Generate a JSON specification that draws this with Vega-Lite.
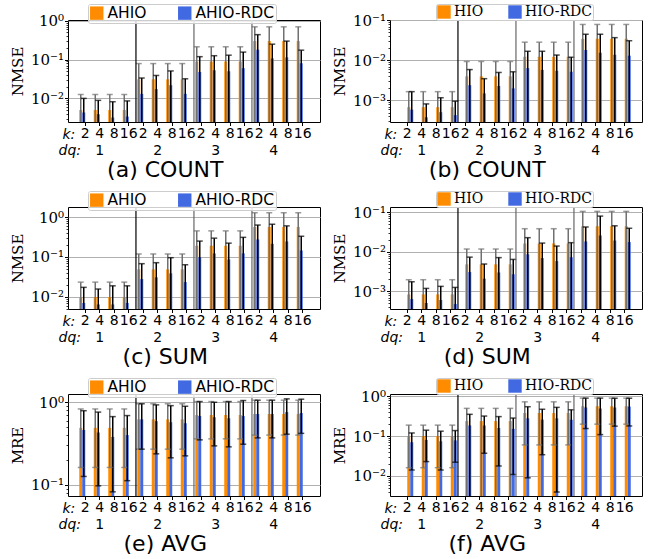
{
"$schema":"https://vega.github.io/schema/vega-lite/v6.json",
"padding":{"left":9,"top":3,"right":3,"bottom":2},
"columns":2,
"spacing":{"row":8,"column":10},
"resolve":{"scale":{"color":"independent"},"legend":{"color":"independent"}},
"config":{"view":{"stroke":"black","strokeWidth":1},"axis":{"labelColor":"black","tickColor":"black","titleColor":"black"},"legend":{"labelColor":"black"},"title":{"color":"black"}},
"datasets":{
"a":[
{"p":1,"s":"AHIO","v":0.005,"lo":0.00001,"hi":0.0126},{"p":2,"s":"AHIO","v":0.005,"lo":0.00001,"hi":0.0126},{"p":3,"s":"AHIO","v":0.005,"lo":0.00001,"hi":0.0126},{"p":4,"s":"AHIO","v":0.005,"lo":0.00001,"hi":0.0126},
{"p":5,"s":"AHIO","v":0.031,"lo":0.00001,"hi":0.079},{"p":6,"s":"AHIO","v":0.031,"lo":0.00001,"hi":0.079},{"p":7,"s":"AHIO","v":0.031,"lo":0.00001,"hi":0.079},{"p":8,"s":"AHIO","v":0.031,"lo":0.00001,"hi":0.079},
{"p":9,"s":"AHIO","v":0.089,"lo":0.00001,"hi":0.214},{"p":10,"s":"AHIO","v":0.089,"lo":0.00001,"hi":0.214},{"p":11,"s":"AHIO","v":0.089,"lo":0.00001,"hi":0.214},{"p":12,"s":"AHIO","v":0.089,"lo":0.00001,"hi":0.214},
{"p":13,"s":"AHIO","v":0.30,"lo":0.00001,"hi":0.70},{"p":14,"s":"AHIO","v":0.30,"lo":0.00001,"hi":0.70},{"p":15,"s":"AHIO","v":0.30,"lo":0.00001,"hi":0.70},{"p":16,"s":"AHIO","v":0.30,"lo":0.00001,"hi":0.70},
{"p":1,"s":"AHIO-RDC","v":0.0043,"lo":0.00001,"hi":0.0100},{"p":2,"s":"AHIO-RDC","v":0.0039,"lo":0.00001,"hi":0.0089},{"p":3,"s":"AHIO-RDC","v":0.0032,"lo":0.00001,"hi":0.0082},{"p":4,"s":"AHIO-RDC","v":0.0034,"lo":0.00001,"hi":0.0086},
{"p":5,"s":"AHIO-RDC","v":0.0131,"lo":0.00001,"hi":0.0335},{"p":6,"s":"AHIO-RDC","v":0.0173,"lo":0.00001,"hi":0.039},{"p":7,"s":"AHIO-RDC","v":0.0219,"lo":0.00001,"hi":0.051},{"p":8,"s":"AHIO-RDC","v":0.0131,"lo":0.00001,"hi":0.032},
{"p":9,"s":"AHIO-RDC","v":0.048,"lo":0.00001,"hi":0.119},{"p":10,"s":"AHIO-RDC","v":0.053,"lo":0.00001,"hi":0.126},{"p":11,"s":"AHIO-RDC","v":0.050,"lo":0.00001,"hi":0.13},{"p":12,"s":"AHIO-RDC","v":0.060,"lo":0.00001,"hi":0.156},
{"p":13,"s":"AHIO-RDC","v":0.18,"lo":0.00001,"hi":0.44},{"p":14,"s":"AHIO-RDC","v":0.107,"lo":0.00001,"hi":0.25},{"p":15,"s":"AHIO-RDC","v":0.114,"lo":0.00001,"hi":0.30},{"p":16,"s":"AHIO-RDC","v":0.080,"lo":0.00001,"hi":0.175}
],
"b":[
{"p":1,"s":"HIO","v":0.00068,"lo":0.000001,"hi":0.00166},{"p":2,"s":"HIO","v":0.00068,"lo":0.000001,"hi":0.00166},{"p":3,"s":"HIO","v":0.00068,"lo":0.000001,"hi":0.00166},{"p":4,"s":"HIO","v":0.00068,"lo":0.000001,"hi":0.00166},
{"p":5,"s":"HIO","v":0.0040,"lo":0.000001,"hi":0.0094},{"p":6,"s":"HIO","v":0.0040,"lo":0.000001,"hi":0.0094},{"p":7,"s":"HIO","v":0.0040,"lo":0.000001,"hi":0.0094},{"p":8,"s":"HIO","v":0.0040,"lo":0.000001,"hi":0.0094},
{"p":9,"s":"HIO","v":0.0123,"lo":0.000001,"hi":0.0285},{"p":10,"s":"HIO","v":0.0123,"lo":0.000001,"hi":0.0285},{"p":11,"s":"HIO","v":0.0123,"lo":0.000001,"hi":0.0285},{"p":12,"s":"HIO","v":0.0123,"lo":0.000001,"hi":0.0285},
{"p":13,"s":"HIO","v":0.0345,"lo":0.000001,"hi":0.079},{"p":14,"s":"HIO","v":0.0345,"lo":0.000001,"hi":0.079},{"p":15,"s":"HIO","v":0.0345,"lo":0.000001,"hi":0.079},{"p":16,"s":"HIO","v":0.0345,"lo":0.000001,"hi":0.079},
{"p":1,"s":"HIO-RDC","v":0.00059,"lo":0.000001,"hi":0.00166},{"p":2,"s":"HIO-RDC","v":0.00038,"lo":0.000001,"hi":0.00082},{"p":3,"s":"HIO-RDC","v":0.00051,"lo":0.000001,"hi":0.00117},{"p":4,"s":"HIO-RDC","v":0.00043,"lo":0.000001,"hi":0.00096},
{"p":5,"s":"HIO-RDC","v":0.0024,"lo":0.000001,"hi":0.0059},{"p":6,"s":"HIO-RDC","v":0.0015,"lo":0.000001,"hi":0.0035},{"p":7,"s":"HIO-RDC","v":0.0023,"lo":0.000001,"hi":0.0050},{"p":8,"s":"HIO-RDC","v":0.0020,"lo":0.000001,"hi":0.0052},
{"p":9,"s":"HIO-RDC","v":0.0064,"lo":0.000001,"hi":0.0169},{"p":10,"s":"HIO-RDC","v":0.0058,"lo":0.000001,"hi":0.0169},{"p":11,"s":"HIO-RDC","v":0.0055,"lo":0.000001,"hi":0.0136},{"p":12,"s":"HIO-RDC","v":0.0052,"lo":0.000001,"hi":0.012},
{"p":13,"s":"HIO-RDC","v":0.0182,"lo":0.000001,"hi":0.045},{"p":14,"s":"HIO-RDC","v":0.0156,"lo":0.000001,"hi":0.045},{"p":15,"s":"HIO-RDC","v":0.0139,"lo":0.000001,"hi":0.037},{"p":16,"s":"HIO-RDC","v":0.0131,"lo":0.000001,"hi":0.031}
],
"c":[
{"p":1,"s":"AHIO","v":0.010,"lo":0.00001,"hi":0.0235},{"p":2,"s":"AHIO","v":0.010,"lo":0.00001,"hi":0.0235},{"p":3,"s":"AHIO","v":0.010,"lo":0.00001,"hi":0.0235},{"p":4,"s":"AHIO","v":0.010,"lo":0.00001,"hi":0.0235},
{"p":5,"s":"AHIO","v":0.049,"lo":0.00001,"hi":0.119},{"p":6,"s":"AHIO","v":0.049,"lo":0.00001,"hi":0.119},{"p":7,"s":"AHIO","v":0.049,"lo":0.00001,"hi":0.119},{"p":8,"s":"AHIO","v":0.049,"lo":0.00001,"hi":0.119},
{"p":9,"s":"AHIO","v":0.191,"lo":0.00001,"hi":0.45},{"p":10,"s":"AHIO","v":0.191,"lo":0.00001,"hi":0.45},{"p":11,"s":"AHIO","v":0.191,"lo":0.00001,"hi":0.45},{"p":12,"s":"AHIO","v":0.191,"lo":0.00001,"hi":0.45},
{"p":13,"s":"AHIO","v":0.565,"lo":0.00001,"hi":1.28},{"p":14,"s":"AHIO","v":0.565,"lo":0.00001,"hi":1.28},{"p":15,"s":"AHIO","v":0.565,"lo":0.00001,"hi":1.28},{"p":16,"s":"AHIO","v":0.565,"lo":0.00001,"hi":1.28},
{"p":1,"s":"AHIO-RDC","v":0.0071,"lo":0.00001,"hi":0.0174},{"p":2,"s":"AHIO-RDC","v":0.0065,"lo":0.00001,"hi":0.0158},{"p":3,"s":"AHIO-RDC","v":0.0065,"lo":0.00001,"hi":0.019},{"p":4,"s":"AHIO-RDC","v":0.0071,"lo":0.00001,"hi":0.019},
{"p":5,"s":"AHIO-RDC","v":0.028,"lo":0.00001,"hi":0.068},{"p":6,"s":"AHIO-RDC","v":0.031,"lo":0.00001,"hi":0.072},{"p":7,"s":"AHIO-RDC","v":0.039,"lo":0.00001,"hi":0.096},{"p":8,"s":"AHIO-RDC","v":0.0235,"lo":0.00001,"hi":0.064},
{"p":9,"s":"AHIO-RDC","v":0.098,"lo":0.00001,"hi":0.25},{"p":10,"s":"AHIO-RDC","v":0.123,"lo":0.00001,"hi":0.296},{"p":11,"s":"AHIO-RDC","v":0.087,"lo":0.00001,"hi":0.222},{"p":12,"s":"AHIO-RDC","v":0.123,"lo":0.00001,"hi":0.31},
{"p":13,"s":"AHIO-RDC","v":0.274,"lo":0.00001,"hi":0.63},{"p":14,"s":"AHIO-RDC","v":0.214,"lo":0.00001,"hi":0.66},{"p":15,"s":"AHIO-RDC","v":0.245,"lo":0.00001,"hi":0.60},{"p":16,"s":"AHIO-RDC","v":0.146,"lo":0.00001,"hi":0.33}
],
"d":[
{"p":1,"s":"HIO","v":0.00084,"lo":0.000001,"hi":0.00197},{"p":2,"s":"HIO","v":0.00084,"lo":0.000001,"hi":0.00197},{"p":3,"s":"HIO","v":0.00084,"lo":0.000001,"hi":0.00197},{"p":4,"s":"HIO","v":0.00084,"lo":0.000001,"hi":0.00197},
{"p":5,"s":"HIO","v":0.0048,"lo":0.000001,"hi":0.0117},{"p":6,"s":"HIO","v":0.0048,"lo":0.000001,"hi":0.0117},{"p":7,"s":"HIO","v":0.0048,"lo":0.000001,"hi":0.0117},{"p":8,"s":"HIO","v":0.0048,"lo":0.000001,"hi":0.0117},
{"p":9,"s":"HIO","v":0.0162,"lo":0.000001,"hi":0.038},{"p":10,"s":"HIO","v":0.0162,"lo":0.000001,"hi":0.038},{"p":11,"s":"HIO","v":0.0162,"lo":0.000001,"hi":0.038},{"p":12,"s":"HIO","v":0.0162,"lo":0.000001,"hi":0.038},
{"p":13,"s":"HIO","v":0.0436,"lo":0.000001,"hi":0.104},{"p":14,"s":"HIO","v":0.0436,"lo":0.000001,"hi":0.104},{"p":15,"s":"HIO","v":0.0436,"lo":0.000001,"hi":0.104},{"p":16,"s":"HIO","v":0.0436,"lo":0.000001,"hi":0.104},
{"p":1,"s":"HIO-RDC","v":0.00064,"lo":0.000001,"hi":0.00175},{"p":2,"s":"HIO-RDC","v":0.00051,"lo":0.000001,"hi":0.00119},{"p":3,"s":"HIO-RDC","v":0.000605,"lo":0.000001,"hi":0.00134},{"p":4,"s":"HIO-RDC","v":0.00048,"lo":0.000001,"hi":0.00126},
{"p":5,"s":"HIO-RDC","v":0.00307,"lo":0.000001,"hi":0.0073},{"p":6,"s":"HIO-RDC","v":0.00209,"lo":0.000001,"hi":0.0049},{"p":7,"s":"HIO-RDC","v":0.0030,"lo":0.000001,"hi":0.0071},{"p":8,"s":"HIO-RDC","v":0.0027,"lo":0.000001,"hi":0.0064},
{"p":9,"s":"HIO-RDC","v":0.0086,"lo":0.000001,"hi":0.0226},{"p":10,"s":"HIO-RDC","v":0.0069,"lo":0.000001,"hi":0.0165},{"p":11,"s":"HIO-RDC","v":0.0058,"lo":0.000001,"hi":0.0139},{"p":12,"s":"HIO-RDC","v":0.0073,"lo":0.000001,"hi":0.0169},
{"p":13,"s":"HIO-RDC","v":0.0182,"lo":0.000001,"hi":0.042},{"p":14,"s":"HIO-RDC","v":0.0258,"lo":0.000001,"hi":0.079},{"p":15,"s":"HIO-RDC","v":0.0193,"lo":0.000001,"hi":0.045},{"p":16,"s":"HIO-RDC","v":0.0175,"lo":0.000001,"hi":0.039}
],
"e":[
{"p":1,"s":"AHIO","v":0.49,"lo":0.162,"hi":0.83},{"p":2,"s":"AHIO","v":0.49,"lo":0.162,"hi":0.83},{"p":3,"s":"AHIO","v":0.49,"lo":0.162,"hi":0.83},{"p":4,"s":"AHIO","v":0.49,"lo":0.162,"hi":0.83},
{"p":5,"s":"AHIO","v":0.62,"lo":0.27,"hi":0.96},{"p":6,"s":"AHIO","v":0.62,"lo":0.27,"hi":0.96},{"p":7,"s":"AHIO","v":0.62,"lo":0.27,"hi":0.96},{"p":8,"s":"AHIO","v":0.62,"lo":0.27,"hi":0.96},
{"p":9,"s":"AHIO","v":0.70,"lo":0.36,"hi":1.02},{"p":10,"s":"AHIO","v":0.70,"lo":0.36,"hi":1.02},{"p":11,"s":"AHIO","v":0.70,"lo":0.36,"hi":1.02},{"p":12,"s":"AHIO","v":0.70,"lo":0.36,"hi":1.02},
{"p":13,"s":"AHIO","v":0.72,"lo":0.40,"hi":1.06},{"p":14,"s":"AHIO","v":0.72,"lo":0.40,"hi":1.06},{"p":15,"s":"AHIO","v":0.72,"lo":0.40,"hi":1.06},{"p":16,"s":"AHIO","v":0.72,"lo":0.40,"hi":1.06},
{"p":1,"s":"AHIO-RDC","v":0.46,"lo":0.126,"hi":0.79},{"p":2,"s":"AHIO-RDC","v":0.43,"lo":0.097,"hi":0.76},{"p":3,"s":"AHIO-RDC","v":0.38,"lo":0.082,"hi":0.67},{"p":4,"s":"AHIO-RDC","v":0.40,"lo":0.112,"hi":0.69},
{"p":5,"s":"AHIO-RDC","v":0.62,"lo":0.27,"hi":0.96},{"p":6,"s":"AHIO-RDC","v":0.59,"lo":0.237,"hi":0.93},{"p":7,"s":"AHIO-RDC","v":0.573,"lo":0.212,"hi":0.91},{"p":8,"s":"AHIO-RDC","v":0.557,"lo":0.224,"hi":0.895},
{"p":9,"s":"AHIO-RDC","v":0.68,"lo":0.35,"hi":1.02},{"p":10,"s":"AHIO-RDC","v":0.66,"lo":0.296,"hi":1.0},{"p":11,"s":"AHIO-RDC","v":0.64,"lo":0.288,"hi":1.02},{"p":12,"s":"AHIO-RDC","v":0.68,"lo":0.31,"hi":1.05},
{"p":13,"s":"AHIO-RDC","v":0.72,"lo":0.37,"hi":1.06},{"p":14,"s":"AHIO-RDC","v":0.72,"lo":0.37,"hi":1.06},{"p":15,"s":"AHIO-RDC","v":0.76,"lo":0.41,"hi":1.10},{"p":16,"s":"AHIO-RDC","v":0.74,"lo":0.42,"hi":1.09}
],
"f":[
{"p":1,"s":"HIO","v":0.100,"lo":0.016,"hi":0.189},{"p":2,"s":"HIO","v":0.100,"lo":0.016,"hi":0.189},{"p":3,"s":"HIO","v":0.100,"lo":0.016,"hi":0.189},{"p":4,"s":"HIO","v":0.100,"lo":0.016,"hi":0.189},
{"p":5,"s":"HIO","v":0.239,"lo":0.00001,"hi":0.50},{"p":6,"s":"HIO","v":0.239,"lo":0.00001,"hi":0.50},{"p":7,"s":"HIO","v":0.239,"lo":0.00001,"hi":0.50},{"p":8,"s":"HIO","v":0.239,"lo":0.00001,"hi":0.50},
{"p":9,"s":"HIO","v":0.38,"lo":0.06,"hi":0.73},{"p":10,"s":"HIO","v":0.38,"lo":0.06,"hi":0.73},{"p":11,"s":"HIO","v":0.38,"lo":0.06,"hi":0.73},{"p":12,"s":"HIO","v":0.38,"lo":0.06,"hi":0.73},
{"p":13,"s":"HIO","v":0.567,"lo":0.2,"hi":0.906},{"p":14,"s":"HIO","v":0.567,"lo":0.2,"hi":0.906},{"p":15,"s":"HIO","v":0.567,"lo":0.2,"hi":0.906},{"p":16,"s":"HIO","v":0.567,"lo":0.2,"hi":0.906},
{"p":1,"s":"HIO-RDC","v":0.070,"lo":0.014,"hi":0.12},{"p":2,"s":"HIO-RDC","v":0.080,"lo":0.0228,"hi":0.141},{"p":3,"s":"HIO-RDC","v":0.074,"lo":0.014,"hi":0.133},{"p":4,"s":"HIO-RDC","v":0.078,"lo":0.022,"hi":0.138},
{"p":5,"s":"HIO-RDC","v":0.185,"lo":0.00001,"hi":0.354},{"p":6,"s":"HIO-RDC","v":0.185,"lo":0.037,"hi":0.32},{"p":7,"s":"HIO-RDC","v":0.16,"lo":0.0177,"hi":0.31},{"p":8,"s":"HIO-RDC","v":0.152,"lo":0.0108,"hi":0.285},
{"p":9,"s":"HIO-RDC","v":0.28,"lo":0.0089,"hi":0.55},{"p":10,"s":"HIO-RDC","v":0.26,"lo":0.034,"hi":0.475},{"p":11,"s":"HIO-RDC","v":0.28,"lo":0.0039,"hi":0.53},{"p":12,"s":"HIO-RDC","v":0.26,"lo":0.00001,"hi":0.46},
{"p":13,"s":"HIO-RDC","v":0.524,"lo":0.155,"hi":0.906},{"p":14,"s":"HIO-RDC","v":0.494,"lo":0.109,"hi":0.906},{"p":15,"s":"HIO-RDC","v":0.524,"lo":0.178,"hi":0.9},{"p":16,"s":"HIO-RDC","v":0.555,"lo":0.18,"hi":0.9}
]
},
"concat":[
{"width":252,"height":102,"data":{"name":"a"},
"title":{"text":"(a) COUNT","orient":"bottom","anchor":"middle","frame":"bounds","font":"DejaVu Sans","fontSize":22,"fontWeight":"normal","offset":3},
"layer":[
{"mark":{"type":"bar","clip":true},"encoding":{
"x":{"field":"p","type":"ordinal","scale":{"type":"band","paddingInner":0.172,"paddingOuter":0.776},"axis":{"orient":"bottom","title":"k:","titleFont":"DejaVu Sans","titleFontStyle":"italic","titleFontWeight":"normal","titleFontSize":14,"titleX":-6,"titleY":12,"titleAlign":"left","titleBaseline":"middle","titleAngle":0,"labelExpr":"['2','4','8','16'][(datum.value-1)%4]","labelAngle":0,"labelFont":"DejaVu Sans","labelFontSize":14,"labelOverlap":false,"labelPadding":1,"tickSize":3.5,"grid":false,"domain":false}},
"xOffset":{"field":"s","type":"nominal","scale":{"paddingInner":0,"paddingOuter":0}},
"y":{"field":"v","type":"quantitative","stack":null,"scale":{"type":"log","domain":[0.00246,1.05],"nice":false},"axis":{"orient":"left","values":[0.01,0.1,1],"labelExpr":"'10' + (datum.value < 1 ? '⁻' : '') + ['⁰','¹','²','³','⁴'][abs(round(log(datum.value)/LN10))]","labelFont":"DejaVu Serif","labelFontSize":15,"labelPadding":1,"tickSize":3.5,"grid":true,"gridColor":"#b0b0b0","gridWidth":1,"domain":false,"title":"NMSE","titleFont":"DejaVu Serif","titleFontSize":15,"titleFontWeight":"normal","titlePadding":5}},
"color":{"field":"s","type":"nominal","scale":{"domain":["AHIO","AHIO-RDC"],"range":["#ff8c00","#4169e1"]},"legend":{"orient":"none","legendX":20,"legendY":-16,"direction":"horizontal","title":null,"symbolType":"square","symbolSize":180,"symbolStrokeWidth":0,"labelFont":"DejaVu Sans","labelFontSize":15.5,"labelOffset":3,"columnPadding":30,"padding":1,"strokeColor":"#cccccc","fillColor":"rgba(255,255,255,0.8)","cornerRadius":2}}}},
{"mark":{"type":"rule","clip":true,"strokeWidth":1.5},"encoding":{
"x":{"field":"p","type":"ordinal","axis":{"orient":"bottom","values":[2,6,10,14],"bandPosition":1,"labelExpr":"(datum.value+2)/4","labelAngle":0,"labelFont":"DejaVu Sans","labelFontSize":14,"labelOverlap":false,"ticks":false,"tickSize":0,"labelPadding":21,"grid":false,"domain":false,"title":"dq:","titleFont":"DejaVu Sans","titleFontStyle":"italic","titleFontWeight":"normal","titleFontSize":14,"titleX":-10,"titleY":28,"titleAlign":"left","titleBaseline":"middle","titleAngle":0}},
"xOffset":{"field":"s","type":"nominal"},
"y":{"field":"lo","type":"quantitative","axis":{"orient":"left","values":[0.0002,0.0003,0.0004,0.0005,0.0006,0.0007,0.0008,0.0009,0.002,0.003,0.004,0.005,0.006,0.007,0.008,0.009,0.02,0.03,0.04,0.05,0.06,0.07,0.08,0.09,0.2,0.3,0.4,0.5,0.6,0.7,0.8,0.9],"tickCount":100,"labels":false,"tickSize":2,"tickWidth":0.8,"grid":false,"domain":false,"title":null}},
"y2":{"field":"hi"},
"color":{"condition":{"test":"indexof(datum.s,'RDC')<0","value":"#707070"},"value":"black"}}},
{"mark":{"type":"tick","clip":true,"thickness":1.5,"size":6},"encoding":{"x":{"field":"p","type":"ordinal","axis":null},"xOffset":{"field":"s","type":"nominal"},"y":{"field":"hi","type":"quantitative","axis":null},"color":{"condition":{"test":"indexof(datum.s,'RDC')<0","value":"#707070"},"value":"black"}}},
{"mark":{"type":"tick","clip":true,"thickness":1.5,"size":6},"encoding":{"x":{"field":"p","type":"ordinal","axis":null},"xOffset":{"field":"s","type":"nominal"},"y":{"field":"lo","type":"quantitative","axis":null},"color":{"condition":{"test":"indexof(datum.s,'RDC')<0","value":"#707070"},"value":"black"}}},
{"data":{"values":[{"p":4},{"p":8},{"p":12}]},"mark":{"type":"rule","strokeWidth":1.2},"encoding":{"x":{"field":"p","type":"ordinal","bandPosition":1.1,"axis":null},"color":{"condition":{"test":"datum.p==4","value":"black"},"value":"#666666"}}}
],
"resolve":{"axis":{"x":"independent","y":"independent"}}},

{"width":252,"height":102,"data":{"name":"b"},
"title":{"text":"(b) COUNT","orient":"bottom","anchor":"middle","frame":"bounds","font":"DejaVu Sans","fontSize":22,"fontWeight":"normal","offset":3},
"layer":[
{"mark":{"type":"bar","clip":true},"encoding":{
"x":{"field":"p","type":"ordinal","scale":{"type":"band","paddingInner":0.172,"paddingOuter":0.776},"axis":{"orient":"bottom","title":"k:","titleFont":"DejaVu Sans","titleFontStyle":"italic","titleFontWeight":"normal","titleFontSize":14,"titleX":-6,"titleY":12,"titleAlign":"left","titleBaseline":"middle","titleAngle":0,"labelExpr":"['2','4','8','16'][(datum.value-1)%4]","labelAngle":0,"labelFont":"DejaVu Sans","labelFontSize":14,"labelOverlap":false,"labelPadding":1,"tickSize":3.5,"grid":false,"domain":false}},
"xOffset":{"field":"s","type":"nominal","scale":{"paddingInner":0,"paddingOuter":0}},
"y":{"field":"v","type":"quantitative","stack":null,"scale":{"type":"log","domain":[0.00029,0.102],"nice":false},"axis":{"orient":"left","values":[0.001,0.01,0.1],"labelExpr":"'10' + (datum.value < 1 ? '⁻' : '') + ['⁰','¹','²','³','⁴'][abs(round(log(datum.value)/LN10))]","labelFont":"DejaVu Serif","labelFontSize":15,"labelPadding":1,"tickSize":3.5,"grid":true,"gridColor":"#b0b0b0","gridWidth":1,"domain":false,"title":"NMSE","titleFont":"DejaVu Serif","titleFontSize":15,"titleFontWeight":"normal","titlePadding":5}},
"color":{"field":"s","type":"nominal","scale":{"domain":["HIO","HIO-RDC"],"range":["#ff8c00","#4169e1"]},"legend":{"orient":"none","legendX":46,"legendY":-16,"direction":"horizontal","title":null,"symbolType":"square","symbolSize":180,"symbolStrokeWidth":0,"labelFont":"DejaVu Serif","labelFontSize":14,"labelOffset":3,"columnPadding":24,"padding":1,"strokeColor":"#cccccc","fillColor":"rgba(255,255,255,0.8)","cornerRadius":2}}}},
{"mark":{"type":"rule","clip":true,"strokeWidth":1.5},"encoding":{
"x":{"field":"p","type":"ordinal","axis":{"orient":"bottom","values":[2,6,10,14],"bandPosition":1,"labelExpr":"(datum.value+2)/4","labelAngle":0,"labelFont":"DejaVu Sans","labelFontSize":14,"labelOverlap":false,"ticks":false,"tickSize":0,"labelPadding":21,"grid":false,"domain":false,"title":"dq:","titleFont":"DejaVu Sans","titleFontStyle":"italic","titleFontWeight":"normal","titleFontSize":14,"titleX":-10,"titleY":28,"titleAlign":"left","titleBaseline":"middle","titleAngle":0}},
"xOffset":{"field":"s","type":"nominal"},
"y":{"field":"lo","type":"quantitative","axis":{"orient":"left","values":[0.0002,0.0003,0.0004,0.0005,0.0006,0.0007,0.0008,0.0009,0.002,0.003,0.004,0.005,0.006,0.007,0.008,0.009,0.02,0.03,0.04,0.05,0.06,0.07,0.08,0.09,0.2,0.3,0.4,0.5,0.6,0.7,0.8,0.9],"tickCount":100,"labels":false,"tickSize":2,"tickWidth":0.8,"grid":false,"domain":false,"title":null}},
"y2":{"field":"hi"},
"color":{"condition":{"test":"indexof(datum.s,'RDC')<0","value":"#707070"},"value":"black"}}},
{"mark":{"type":"tick","clip":true,"thickness":1.5,"size":6},"encoding":{"x":{"field":"p","type":"ordinal","axis":null},"xOffset":{"field":"s","type":"nominal"},"y":{"field":"hi","type":"quantitative","axis":null},"color":{"condition":{"test":"indexof(datum.s,'RDC')<0","value":"#707070"},"value":"black"}}},
{"mark":{"type":"tick","clip":true,"thickness":1.5,"size":6},"encoding":{"x":{"field":"p","type":"ordinal","axis":null},"xOffset":{"field":"s","type":"nominal"},"y":{"field":"lo","type":"quantitative","axis":null},"color":{"condition":{"test":"indexof(datum.s,'RDC')<0","value":"#707070"},"value":"black"}}},
{"data":{"values":[{"p":4},{"p":8},{"p":12}]},"mark":{"type":"rule","strokeWidth":1.2},"encoding":{"x":{"field":"p","type":"ordinal","bandPosition":1.1,"axis":null},"color":{"condition":{"test":"datum.p==4","value":"black"},"value":"#666666"}}}
],
"resolve":{"axis":{"x":"independent","y":"independent"}}},

{"width":252,"height":102,"data":{"name":"c"},
"title":{"text":"(c) SUM","orient":"bottom","anchor":"middle","frame":"bounds","font":"DejaVu Sans","fontSize":22,"fontWeight":"normal","offset":3},
"layer":[
{"mark":{"type":"bar","clip":true},"encoding":{
"x":{"field":"p","type":"ordinal","scale":{"type":"band","paddingInner":0.172,"paddingOuter":0.776},"axis":{"orient":"bottom","title":"k:","titleFont":"DejaVu Sans","titleFontStyle":"italic","titleFontWeight":"normal","titleFontSize":14,"titleX":-6,"titleY":12,"titleAlign":"left","titleBaseline":"middle","titleAngle":0,"labelExpr":"['2','4','8','16'][(datum.value-1)%4]","labelAngle":0,"labelFont":"DejaVu Sans","labelFontSize":14,"labelOverlap":false,"labelPadding":1,"tickSize":3.5,"grid":false,"domain":false}},
"xOffset":{"field":"s","type":"nominal","scale":{"paddingInner":0,"paddingOuter":0}},
"y":{"field":"v","type":"quantitative","stack":null,"scale":{"type":"log","domain":[0.005,1.78],"nice":false},"axis":{"orient":"left","values":[0.01,0.1,1],"labelExpr":"'10' + (datum.value < 1 ? '⁻' : '') + ['⁰','¹','²','³','⁴'][abs(round(log(datum.value)/LN10))]","labelFont":"DejaVu Serif","labelFontSize":15,"labelPadding":1,"tickSize":3.5,"grid":true,"gridColor":"#b0b0b0","gridWidth":1,"domain":false,"title":"NMSE","titleFont":"DejaVu Serif","titleFontSize":15,"titleFontWeight":"normal","titlePadding":5}},
"color":{"field":"s","type":"nominal","scale":{"domain":["AHIO","AHIO-RDC"],"range":["#ff8c00","#4169e1"]},"legend":{"orient":"none","legendX":20,"legendY":-16,"direction":"horizontal","title":null,"symbolType":"square","symbolSize":180,"symbolStrokeWidth":0,"labelFont":"DejaVu Sans","labelFontSize":15.5,"labelOffset":3,"columnPadding":30,"padding":1,"strokeColor":"#cccccc","fillColor":"rgba(255,255,255,0.8)","cornerRadius":2}}}},
{"mark":{"type":"rule","clip":true,"strokeWidth":1.5},"encoding":{
"x":{"field":"p","type":"ordinal","axis":{"orient":"bottom","values":[2,6,10,14],"bandPosition":1,"labelExpr":"(datum.value+2)/4","labelAngle":0,"labelFont":"DejaVu Sans","labelFontSize":14,"labelOverlap":false,"ticks":false,"tickSize":0,"labelPadding":21,"grid":false,"domain":false,"title":"dq:","titleFont":"DejaVu Sans","titleFontStyle":"italic","titleFontWeight":"normal","titleFontSize":14,"titleX":-10,"titleY":28,"titleAlign":"left","titleBaseline":"middle","titleAngle":0}},
"xOffset":{"field":"s","type":"nominal"},
"y":{"field":"lo","type":"quantitative","axis":{"orient":"left","values":[0.0002,0.0003,0.0004,0.0005,0.0006,0.0007,0.0008,0.0009,0.002,0.003,0.004,0.005,0.006,0.007,0.008,0.009,0.02,0.03,0.04,0.05,0.06,0.07,0.08,0.09,0.2,0.3,0.4,0.5,0.6,0.7,0.8,0.9],"tickCount":100,"labels":false,"tickSize":2,"tickWidth":0.8,"grid":false,"domain":false,"title":null}},
"y2":{"field":"hi"},
"color":{"condition":{"test":"indexof(datum.s,'RDC')<0","value":"#707070"},"value":"black"}}},
{"mark":{"type":"tick","clip":true,"thickness":1.5,"size":6},"encoding":{"x":{"field":"p","type":"ordinal","axis":null},"xOffset":{"field":"s","type":"nominal"},"y":{"field":"hi","type":"quantitative","axis":null},"color":{"condition":{"test":"indexof(datum.s,'RDC')<0","value":"#707070"},"value":"black"}}},
{"mark":{"type":"tick","clip":true,"thickness":1.5,"size":6},"encoding":{"x":{"field":"p","type":"ordinal","axis":null},"xOffset":{"field":"s","type":"nominal"},"y":{"field":"lo","type":"quantitative","axis":null},"color":{"condition":{"test":"indexof(datum.s,'RDC')<0","value":"#707070"},"value":"black"}}},
{"data":{"values":[{"p":4},{"p":8},{"p":12}]},"mark":{"type":"rule","strokeWidth":1.2},"encoding":{"x":{"field":"p","type":"ordinal","bandPosition":1.1,"axis":null},"color":{"condition":{"test":"datum.p==4","value":"black"},"value":"#666666"}}}
],
"resolve":{"axis":{"x":"independent","y":"independent"}}},

{"width":252,"height":102,"data":{"name":"d"},
"title":{"text":"(d) SUM","orient":"bottom","anchor":"middle","frame":"bounds","font":"DejaVu Sans","fontSize":22,"fontWeight":"normal","offset":3},
"layer":[
{"mark":{"type":"bar","clip":true},"encoding":{
"x":{"field":"p","type":"ordinal","scale":{"type":"band","paddingInner":0.172,"paddingOuter":0.776},"axis":{"orient":"bottom","title":"k:","titleFont":"DejaVu Sans","titleFontStyle":"italic","titleFontWeight":"normal","titleFontSize":14,"titleX":-6,"titleY":12,"titleAlign":"left","titleBaseline":"middle","titleAngle":0,"labelExpr":"['2','4','8','16'][(datum.value-1)%4]","labelAngle":0,"labelFont":"DejaVu Sans","labelFontSize":14,"labelOverlap":false,"labelPadding":1,"tickSize":3.5,"grid":false,"domain":false}},
"xOffset":{"field":"s","type":"nominal","scale":{"paddingInner":0,"paddingOuter":0}},
"y":{"field":"v","type":"quantitative","stack":null,"scale":{"type":"log","domain":[0.00036,0.134],"nice":false},"axis":{"orient":"left","values":[0.001,0.01,0.1],"labelExpr":"'10' + (datum.value < 1 ? '⁻' : '') + ['⁰','¹','²','³','⁴'][abs(round(log(datum.value)/LN10))]","labelFont":"DejaVu Serif","labelFontSize":15,"labelPadding":1,"tickSize":3.5,"grid":true,"gridColor":"#b0b0b0","gridWidth":1,"domain":false,"title":"NMSE","titleFont":"DejaVu Serif","titleFontSize":15,"titleFontWeight":"normal","titlePadding":5}},
"color":{"field":"s","type":"nominal","scale":{"domain":["HIO","HIO-RDC"],"range":["#ff8c00","#4169e1"]},"legend":{"orient":"none","legendX":46,"legendY":-16,"direction":"horizontal","title":null,"symbolType":"square","symbolSize":180,"symbolStrokeWidth":0,"labelFont":"DejaVu Serif","labelFontSize":14,"labelOffset":3,"columnPadding":24,"padding":1,"strokeColor":"#cccccc","fillColor":"rgba(255,255,255,0.8)","cornerRadius":2}}}},
{"mark":{"type":"rule","clip":true,"strokeWidth":1.5},"encoding":{
"x":{"field":"p","type":"ordinal","axis":{"orient":"bottom","values":[2,6,10,14],"bandPosition":1,"labelExpr":"(datum.value+2)/4","labelAngle":0,"labelFont":"DejaVu Sans","labelFontSize":14,"labelOverlap":false,"ticks":false,"tickSize":0,"labelPadding":21,"grid":false,"domain":false,"title":"dq:","titleFont":"DejaVu Sans","titleFontStyle":"italic","titleFontWeight":"normal","titleFontSize":14,"titleX":-10,"titleY":28,"titleAlign":"left","titleBaseline":"middle","titleAngle":0}},
"xOffset":{"field":"s","type":"nominal"},
"y":{"field":"lo","type":"quantitative","axis":{"orient":"left","values":[0.0002,0.0003,0.0004,0.0005,0.0006,0.0007,0.0008,0.0009,0.002,0.003,0.004,0.005,0.006,0.007,0.008,0.009,0.02,0.03,0.04,0.05,0.06,0.07,0.08,0.09,0.2,0.3,0.4,0.5,0.6,0.7,0.8,0.9],"tickCount":100,"labels":false,"tickSize":2,"tickWidth":0.8,"grid":false,"domain":false,"title":null}},
"y2":{"field":"hi"},
"color":{"condition":{"test":"indexof(datum.s,'RDC')<0","value":"#707070"},"value":"black"}}},
{"mark":{"type":"tick","clip":true,"thickness":1.5,"size":6},"encoding":{"x":{"field":"p","type":"ordinal","axis":null},"xOffset":{"field":"s","type":"nominal"},"y":{"field":"hi","type":"quantitative","axis":null},"color":{"condition":{"test":"indexof(datum.s,'RDC')<0","value":"#707070"},"value":"black"}}},
{"mark":{"type":"tick","clip":true,"thickness":1.5,"size":6},"encoding":{"x":{"field":"p","type":"ordinal","axis":null},"xOffset":{"field":"s","type":"nominal"},"y":{"field":"lo","type":"quantitative","axis":null},"color":{"condition":{"test":"indexof(datum.s,'RDC')<0","value":"#707070"},"value":"black"}}},
{"data":{"values":[{"p":4},{"p":8},{"p":12}]},"mark":{"type":"rule","strokeWidth":1.2},"encoding":{"x":{"field":"p","type":"ordinal","bandPosition":1.1,"axis":null},"color":{"condition":{"test":"datum.p==4","value":"black"},"value":"#666666"}}}
],
"resolve":{"axis":{"x":"independent","y":"independent"}}},

{"width":252,"height":102,"data":{"name":"e"},
"title":{"text":"(e) AVG","orient":"bottom","anchor":"middle","frame":"bounds","font":"DejaVu Sans","fontSize":22,"fontWeight":"normal","offset":3},
"layer":[
{"mark":{"type":"bar","clip":true},"encoding":{
"x":{"field":"p","type":"ordinal","scale":{"type":"band","paddingInner":0.172,"paddingOuter":0.776},"axis":{"orient":"bottom","title":"k:","titleFont":"DejaVu Sans","titleFontStyle":"italic","titleFontWeight":"normal","titleFontSize":14,"titleX":-6,"titleY":12,"titleAlign":"left","titleBaseline":"middle","titleAngle":0,"labelExpr":"['2','4','8','16'][(datum.value-1)%4]","labelAngle":0,"labelFont":"DejaVu Sans","labelFontSize":14,"labelOverlap":false,"labelPadding":1,"tickSize":3.5,"grid":false,"domain":false}},
"xOffset":{"field":"s","type":"nominal","scale":{"paddingInner":0,"paddingOuter":0}},
"y":{"field":"v","type":"quantitative","stack":null,"scale":{"type":"log","domain":[0.073,1.26],"nice":false},"axis":{"orient":"left","values":[0.1,1],"labelExpr":"'10' + (datum.value < 1 ? '⁻' : '') + ['⁰','¹','²','³','⁴'][abs(round(log(datum.value)/LN10))]","labelFont":"DejaVu Serif","labelFontSize":15,"labelPadding":1,"tickSize":3.5,"grid":true,"gridColor":"#b0b0b0","gridWidth":1,"domain":false,"title":"MRE","titleFont":"DejaVu Serif","titleFontSize":15,"titleFontWeight":"normal","titlePadding":5}},
"color":{"field":"s","type":"nominal","scale":{"domain":["AHIO","AHIO-RDC"],"range":["#ff8c00","#4169e1"]},"legend":{"orient":"none","legendX":20,"legendY":-16,"direction":"horizontal","title":null,"symbolType":"square","symbolSize":180,"symbolStrokeWidth":0,"labelFont":"DejaVu Sans","labelFontSize":15.5,"labelOffset":3,"columnPadding":30,"padding":1,"strokeColor":"#cccccc","fillColor":"rgba(255,255,255,0.8)","cornerRadius":2}}}},
{"mark":{"type":"rule","clip":true,"strokeWidth":1.5},"encoding":{
"x":{"field":"p","type":"ordinal","axis":{"orient":"bottom","values":[2,6,10,14],"bandPosition":1,"labelExpr":"(datum.value+2)/4","labelAngle":0,"labelFont":"DejaVu Sans","labelFontSize":14,"labelOverlap":false,"ticks":false,"tickSize":0,"labelPadding":21,"grid":false,"domain":false,"title":"dq:","titleFont":"DejaVu Sans","titleFontStyle":"italic","titleFontWeight":"normal","titleFontSize":14,"titleX":-10,"titleY":28,"titleAlign":"left","titleBaseline":"middle","titleAngle":0}},
"xOffset":{"field":"s","type":"nominal"},
"y":{"field":"lo","type":"quantitative","axis":{"orient":"left","values":[0.0002,0.0003,0.0004,0.0005,0.0006,0.0007,0.0008,0.0009,0.002,0.003,0.004,0.005,0.006,0.007,0.008,0.009,0.02,0.03,0.04,0.05,0.06,0.07,0.08,0.09,0.2,0.3,0.4,0.5,0.6,0.7,0.8,0.9],"tickCount":100,"labels":false,"tickSize":2,"tickWidth":0.8,"grid":false,"domain":false,"title":null}},
"y2":{"field":"hi"},
"color":{"condition":{"test":"indexof(datum.s,'RDC')<0","value":"#707070"},"value":"black"}}},
{"mark":{"type":"tick","clip":true,"thickness":1.5,"size":6},"encoding":{"x":{"field":"p","type":"ordinal","axis":null},"xOffset":{"field":"s","type":"nominal"},"y":{"field":"hi","type":"quantitative","axis":null},"color":{"condition":{"test":"indexof(datum.s,'RDC')<0","value":"#707070"},"value":"black"}}},
{"mark":{"type":"tick","clip":true,"thickness":1.5,"size":6},"encoding":{"x":{"field":"p","type":"ordinal","axis":null},"xOffset":{"field":"s","type":"nominal"},"y":{"field":"lo","type":"quantitative","axis":null},"color":{"condition":{"test":"indexof(datum.s,'RDC')<0","value":"#707070"},"value":"black"}}},
{"data":{"values":[{"p":4},{"p":8},{"p":12}]},"mark":{"type":"rule","strokeWidth":1.2},"encoding":{"x":{"field":"p","type":"ordinal","bandPosition":1.1,"axis":null},"color":{"condition":{"test":"datum.p==4","value":"black"},"value":"#666666"}}}
],
"resolve":{"axis":{"x":"independent","y":"independent"}}},

{"width":252,"height":102,"data":{"name":"f"},
"title":{"text":"(f) AVG","orient":"bottom","anchor":"middle","frame":"bounds","font":"DejaVu Sans","fontSize":22,"fontWeight":"normal","offset":3},
"layer":[
{"mark":{"type":"bar","clip":true},"encoding":{
"x":{"field":"p","type":"ordinal","scale":{"type":"band","paddingInner":0.172,"paddingOuter":0.776},"axis":{"orient":"bottom","title":"k:","titleFont":"DejaVu Sans","titleFontStyle":"italic","titleFontWeight":"normal","titleFontSize":14,"titleX":-6,"titleY":12,"titleAlign":"left","titleBaseline":"middle","titleAngle":0,"labelExpr":"['2','4','8','16'][(datum.value-1)%4]","labelAngle":0,"labelFont":"DejaVu Sans","labelFontSize":14,"labelOverlap":false,"labelPadding":1,"tickSize":3.5,"grid":false,"domain":false}},
"xOffset":{"field":"s","type":"nominal","scale":{"paddingInner":0,"paddingOuter":0}},
"y":{"field":"v","type":"quantitative","stack":null,"scale":{"type":"log","domain":[0.0031,1.15],"nice":false},"axis":{"orient":"left","values":[0.01,0.1,1],"labelExpr":"'10' + (datum.value < 1 ? '⁻' : '') + ['⁰','¹','²','³','⁴'][abs(round(log(datum.value)/LN10))]","labelFont":"DejaVu Serif","labelFontSize":15,"labelPadding":1,"tickSize":3.5,"grid":true,"gridColor":"#b0b0b0","gridWidth":1,"domain":false,"title":"MRE","titleFont":"DejaVu Serif","titleFontSize":15,"titleFontWeight":"normal","titlePadding":5}},
"color":{"field":"s","type":"nominal","scale":{"domain":["HIO","HIO-RDC"],"range":["#ff8c00","#4169e1"]},"legend":{"orient":"none","legendX":46,"legendY":-16,"direction":"horizontal","title":null,"symbolType":"square","symbolSize":180,"symbolStrokeWidth":0,"labelFont":"DejaVu Serif","labelFontSize":14,"labelOffset":3,"columnPadding":24,"padding":1,"strokeColor":"#cccccc","fillColor":"rgba(255,255,255,0.8)","cornerRadius":2}}}},
{"mark":{"type":"rule","clip":true,"strokeWidth":1.5},"encoding":{
"x":{"field":"p","type":"ordinal","axis":{"orient":"bottom","values":[2,6,10,14],"bandPosition":1,"labelExpr":"(datum.value+2)/4","labelAngle":0,"labelFont":"DejaVu Sans","labelFontSize":14,"labelOverlap":false,"ticks":false,"tickSize":0,"labelPadding":21,"grid":false,"domain":false,"title":"dq:","titleFont":"DejaVu Sans","titleFontStyle":"italic","titleFontWeight":"normal","titleFontSize":14,"titleX":-10,"titleY":28,"titleAlign":"left","titleBaseline":"middle","titleAngle":0}},
"xOffset":{"field":"s","type":"nominal"},
"y":{"field":"lo","type":"quantitative","axis":{"orient":"left","values":[0.0002,0.0003,0.0004,0.0005,0.0006,0.0007,0.0008,0.0009,0.002,0.003,0.004,0.005,0.006,0.007,0.008,0.009,0.02,0.03,0.04,0.05,0.06,0.07,0.08,0.09,0.2,0.3,0.4,0.5,0.6,0.7,0.8,0.9],"tickCount":100,"labels":false,"tickSize":2,"tickWidth":0.8,"grid":false,"domain":false,"title":null}},
"y2":{"field":"hi"},
"color":{"condition":{"test":"indexof(datum.s,'RDC')<0","value":"#707070"},"value":"black"}}},
{"mark":{"type":"tick","clip":true,"thickness":1.5,"size":6},"encoding":{"x":{"field":"p","type":"ordinal","axis":null},"xOffset":{"field":"s","type":"nominal"},"y":{"field":"hi","type":"quantitative","axis":null},"color":{"condition":{"test":"indexof(datum.s,'RDC')<0","value":"#707070"},"value":"black"}}},
{"mark":{"type":"tick","clip":true,"thickness":1.5,"size":6},"encoding":{"x":{"field":"p","type":"ordinal","axis":null},"xOffset":{"field":"s","type":"nominal"},"y":{"field":"lo","type":"quantitative","axis":null},"color":{"condition":{"test":"indexof(datum.s,'RDC')<0","value":"#707070"},"value":"black"}}},
{"data":{"values":[{"p":4},{"p":8},{"p":12}]},"mark":{"type":"rule","strokeWidth":1.2},"encoding":{"x":{"field":"p","type":"ordinal","bandPosition":1.1,"axis":null},"color":{"condition":{"test":"datum.p==4","value":"black"},"value":"#666666"}}}
],
"resolve":{"axis":{"x":"independent","y":"independent"}}}
]
}
